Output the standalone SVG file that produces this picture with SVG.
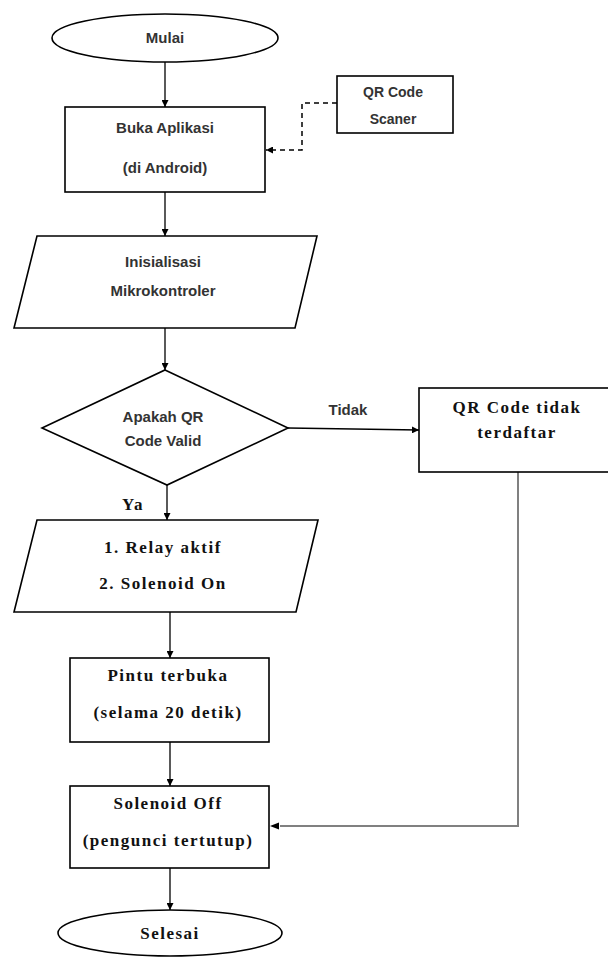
<svg xmlns="http://www.w3.org/2000/svg" width="608" height="958" viewBox="0 0 608 958">
<style>
.s{fill:#fff;stroke:#000;stroke-width:1.6}
.c{fill:none;stroke:#000;stroke-width:1.3}
.g{fill:none;stroke:#808080;stroke-width:2}
.d{fill:none;stroke:#000;stroke-width:1.5;stroke-dasharray:5,4}
.t{font-family:"Liberation Sans",Arial,sans-serif;font-size:15px;font-weight:bold;fill:#333;text-anchor:middle}
.r{font-family:"Liberation Serif","Times New Roman",serif;font-size:17px;font-weight:bold;fill:#111;text-anchor:middle;letter-spacing:1.5px}
</style>
<defs>
<marker id="a" viewBox="0 0 10 10" refX="10" refY="5" markerWidth="7" markerHeight="7" markerUnits="userSpaceOnUse" orient="auto">
<path d="M0,0 L10,5 L0,10 z" fill="#000"/>
</marker>
</defs>
<g id="connectors">
<line class="c" x1="165" y1="62" x2="165" y2="107" marker-end="url(#a)"/>
<polyline class="d" points="337,103 302,103 302,150 266,150" marker-end="url(#a)"/>
<line class="c" x1="165" y1="192" x2="165" y2="236" marker-end="url(#a)"/>
<line class="c" x1="165" y1="328" x2="165" y2="370" marker-end="url(#a)"/>
<line class="c" x1="288" y1="428" x2="419" y2="430" marker-end="url(#a)"/>
<line class="c" x1="167" y1="485" x2="167" y2="520" marker-end="url(#a)"/>
<line class="c" x1="170" y1="612" x2="170" y2="658" marker-end="url(#a)"/>
<line class="c" x1="170" y1="742" x2="170" y2="786" marker-end="url(#a)"/>
<polyline class="g" points="518,472 518,826 280,826"/>
<path d="M270,826 L279,822.5 L279,829.5 z" fill="#000"/>
<line class="c" x1="170" y1="868" x2="170" y2="910" marker-end="url(#a)"/>
<text class="t" x="348" y="415">Tidak</text>
<text class="r" x="133" y="510">Ya</text>
</g>
<g id="mulai">
<ellipse class="s" cx="165" cy="38" rx="113" ry="24"/>
<text class="t" x="165" y="43">Mulai</text>
</g>
<g id="buka">
<rect class="s" x="65" y="107" width="200" height="85"/>
<text class="t" x="165" y="133">Buka Aplikasi</text>
<text class="t" x="165" y="173">(di Android)</text>
</g>
<g id="scanner">
<rect class="s" x="337" y="76" width="116" height="57"/>
<text class="t" x="393" y="97" style="font-size:14px">QR Code</text>
<text class="t" x="393" y="124" style="font-size:14px">Scaner</text>
</g>
<g id="inisialisasi">
<polygon class="s" points="37,236 317,236 295,328 14,328"/>
<text class="t" x="163" y="267">Inisialisasi</text>
<text class="t" x="163" y="296">Mikrokontroler</text>
</g>
<g id="decision">
<polygon class="s" points="165,370 288,428 167,485 42,428"/>
<text class="t" x="163" y="422">Apakah QR</text>
<text class="t" x="163" y="446">Code Valid</text>
</g>
<g id="tidak-terdaftar">
<rect class="s" x="419" y="388" width="192" height="84"/>
<text class="r" x="517" y="413">QR Code tidak</text>
<text class="r" x="517" y="438">terdaftar</text>
</g>
<g id="relay">
<polygon class="s" points="37,520 318,520 296,612 14,612"/>
<text class="r" x="163" y="553">1. Relay aktif</text>
<text class="r" x="163" y="589">2. Solenoid On</text>
</g>
<g id="pintu">
<rect class="s" x="70" y="658" width="199" height="84"/>
<text class="r" x="168" y="681">Pintu terbuka</text>
<text class="r" x="168" y="718">(selama 20 detik)</text>
</g>
<g id="solenoid-off">
<rect class="s" x="70" y="786" width="199" height="82"/>
<text class="r" x="168" y="809">Solenoid Off</text>
<text class="r" x="168" y="846">(pengunci tertutup)</text>
</g>
<g id="selesai">
<ellipse class="s" cx="170" cy="933" rx="112" ry="23"/>
<text class="r" x="170" y="939">Selesai</text>
</g>
</svg>
